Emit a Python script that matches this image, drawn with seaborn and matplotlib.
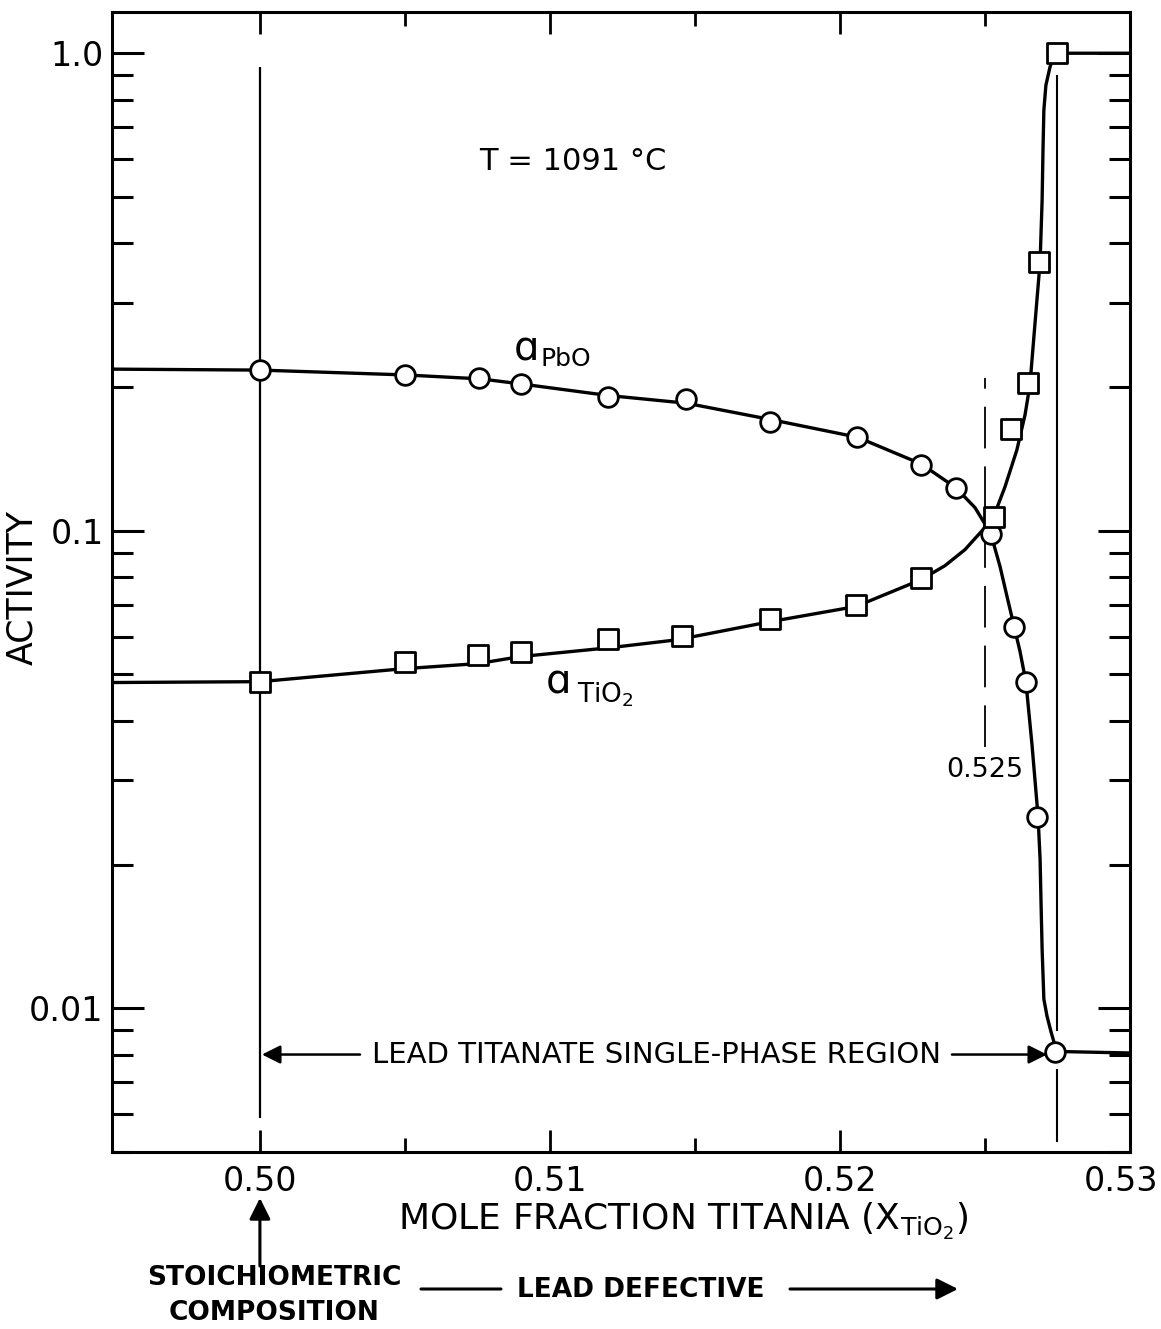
import numpy as np
import pandas as pd
import matplotlib
matplotlib.use("Agg")
import matplotlib.pyplot as plt
import matplotlib.transforms as mtransforms
import seaborn as sns
from matplotlib.ticker import FixedLocator, FixedFormatter, NullFormatter, LogLocator

# ---------------- data ----------------
# measured points: a_PbO (circles)
x_pbo = [0.5000, 0.5050, 0.50755, 0.5090, 0.5120, 0.5147, 0.5176, 0.5206,
         0.5228, 0.5240, 0.5252, 0.5260, 0.5264, 0.5268, 0.5274]
a_pbo = [0.217, 0.212, 0.209, 0.203, 0.191, 0.189, 0.169, 0.157,
         0.137, 0.123, 0.0986, 0.0630, 0.0483, 0.0252, 0.0081]

# measured points: a_TiO2 (squares)
x_tio2 = [0.5000, 0.5050, 0.50752, 0.5090, 0.5120, 0.51455, 0.51759, 0.52055,
          0.5228, 0.5253, 0.5259, 0.52648, 0.52686, 0.5275]
a_tio2 = [0.0483, 0.0532, 0.0548, 0.0558, 0.0594, 0.0603, 0.0654, 0.0700,
          0.0797, 0.107, 0.163, 0.204, 0.366, 1.0]

# hand-drawn smooth curves
pbo_curve_x = [0.4949, 0.5000, 0.5050, 0.5076, 0.5090, 0.5120, 0.5147, 0.5176,
               0.5206, 0.5228, 0.5240, 0.52466, 0.5252, 0.52552, 0.52576, 0.5260,
               0.52621, 0.52641, 0.52662, 0.52683, 0.52690, 0.52693, 0.52697,
               0.52703, 0.52714, 0.52728, 0.52738, 0.52745, 0.5300]
pbo_curve_y = [0.218, 0.217, 0.212, 0.208, 0.203, 0.192, 0.185, 0.171,
               0.157, 0.138, 0.123, 0.1117, 0.0986, 0.0841, 0.0728, 0.0632,
               0.0558, 0.0483, 0.0357, 0.0252, 0.0205, 0.0169, 0.01328,
               0.01045, 0.00962, 0.00891, 0.00849, 0.00812, 0.00806]

tio2_curve_x = [0.4949, 0.5000, 0.50493, 0.50752, 0.50897, 0.51207, 0.51438, 0.51759,
                0.52055, 0.5228, 0.52362, 0.52431, 0.52493, 0.52531, 0.52569,
                0.52610, 0.52638, 0.52655, 0.52672, 0.52690, 0.52697, 0.52700,
                0.52703, 0.52710, 0.52724, 0.52738, 0.52752, 0.5300]
tio2_curve_y = [0.0481, 0.0483, 0.0514, 0.0527, 0.0545, 0.0569, 0.0591, 0.0645,
                0.0694, 0.0790, 0.0845, 0.0913, 0.1005, 0.1075, 0.1236,
                0.1477, 0.1748, 0.2020, 0.2698, 0.3655, 0.4926, 0.627,
                0.760, 0.857, 0.935, 0.989, 1.0, 1.0]

# reference lines / annotations
stoich_x = 0.50
boundary_x = 0.5275
crossing_x = 0.525

x_ticks = [0.50, 0.51, 0.52, 0.53]
x_ticklabels = ["0.50", "0.51", "0.52", "0.53"]
x_minor = [0.505, 0.515, 0.525]
y_ticks = [0.01, 0.1, 1.0]
y_ticklabels = ["0.01", "0.1", "1.0"]

# ---------------- figure ----------------
sns.set_style("ticks")
plt.rcParams["font.family"] = ["DejaVu Sans"]
plt.rcParams["mathtext.fontset"] = "dejavusans"
plt.rcParams["lines.scale_dashes"] = False
for key in ["text.color", "axes.labelcolor", "xtick.color", "ytick.color",
            "axes.edgecolor"]:
    plt.rcParams[key] = "black"

fig = plt.figure(figsize=(11.61, 13.29), dpi=100)
ax = fig.add_axes([0.09647, 0.13318, 0.87683, 0.85779])

df_pc = pd.DataFrame({"x": pbo_curve_x, "y": pbo_curve_y})
df_tc = pd.DataFrame({"x": tio2_curve_x, "y": tio2_curve_y})
sns.lineplot(data=df_pc, x="x", y="y", sort=False, estimator=None, color="black",
             lw=2.4, ax=ax, zorder=3)
sns.lineplot(data=df_tc, x="x", y="y", sort=False, estimator=None, color="black",
             lw=2.4, ax=ax, zorder=3)

df_p = pd.DataFrame({"x": x_pbo, "y": a_pbo})
df_t = pd.DataFrame({"x": x_tio2, "y": a_tio2})
sns.scatterplot(data=df_p, x="x", y="y", marker="o", s=200, facecolor="white",
                edgecolor="black", linewidth=2.0, ax=ax, zorder=5)
sns.scatterplot(data=df_t, x="x", y="y", marker="s", s=190, facecolor="white",
                edgecolor="black", linewidth=2.0, ax=ax, zorder=5)

ax.set_yscale("log")
ax.set_xlim(0.4949, 0.5300)
ax.set_ylim(0.005, 1.22)

# vertical reference lines
ax.vlines(stoich_x, 0.0059, 0.935, color="black", lw=1.6, zorder=2)
ax.vlines(boundary_x, 0.00895, 0.90, color="black", lw=1.5, zorder=2)
ax.vlines(boundary_x, 0.00525, 0.00745, color="black", lw=1.5, zorder=2)
ax.vlines(crossing_x, 0.0353, 0.209, color="black", lw=1.3, zorder=2,
          linestyles=(0, (30, 13)))
ax.text(crossing_x, 0.0316, "0.525", ha="center", va="center", fontsize=19.5)

# text labels
ax.text(0.51079, 0.592, "T = 1091 °C", ha="center", va="center", fontsize=22)
ax.text(0.5092, 0.240, "ɑ", ha="center", va="center", fontsize=29)
ax.text(0.50968, 0.229, "PbO", ha="left", va="center", fontsize=18)
ax.text(0.51028, 0.0482, "ɑ", ha="center", va="center", fontsize=29)
ax.text(0.51095, 0.0453, r"TiO$_2$", ha="left", va="center", fontsize=19)

# single-phase region arrows
region_y = 0.0080
ax.annotate("", xy=(0.50007, region_y), xytext=(0.50345, region_y),
            arrowprops=dict(arrowstyle="-|>", color="black", lw=1.8,
                            mutation_scale=28, shrinkA=0, shrinkB=0))
ax.annotate("", xy=(0.52714, region_y), xytext=(0.52386, region_y),
            arrowprops=dict(arrowstyle="-|>", color="black", lw=1.8,
                            mutation_scale=28, shrinkA=0, shrinkB=0))
ax.text(0.51366, 0.0080, "LEAD TITANATE SINGLE-PHASE REGION", ha="center",
        va="center", fontsize=21)

# ticks
ax.xaxis.set_major_locator(FixedLocator(x_ticks))
ax.xaxis.set_major_formatter(FixedFormatter(x_ticklabels))
ax.xaxis.set_minor_locator(FixedLocator(x_minor))
ax.xaxis.set_minor_formatter(NullFormatter())
ax.yaxis.set_major_locator(FixedLocator(y_ticks))
ax.yaxis.set_major_formatter(FixedFormatter(y_ticklabels))
ax.yaxis.set_minor_locator(LogLocator(base=10, subs=np.arange(2, 10)))
ax.yaxis.set_minor_formatter(NullFormatter())

ax.tick_params(axis="x", which="major", direction="in", length=16, width=2.0,
               top=True, bottom=True, labelsize=24, pad=9, color="black")
ax.tick_params(axis="x", which="minor", direction="in", length=10, width=2.0,
               top=True, bottom=True)
ax.tick_params(axis="y", which="major", direction="in", length=23, width=2.2,
               left=True, right=True, labelsize=24, pad=6)
ax.tick_params(axis="y", which="minor", direction="in", length=15, width=2.2,
               left=True, right=True)
for sp in ax.spines.values():
    sp.set_visible(True)
    sp.set_linewidth(2.2)
    sp.set_color("black")

# nudge the last x tick label so it stays inside the figure, as in the original
last_lbl = ax.get_xticklabels()[-1]
last_lbl.set_transform(last_lbl.get_transform() +
                       mtransforms.ScaledTranslation(-9 / 100, 0, fig.dpi_scale_trans))

ax.set_xlabel(r"MOLE FRACTION TITANIA (X$_{\mathrm{TiO}_2}$)", fontsize=26)
ax.xaxis.set_label_coords(0.561, -0.043)
ax.set_ylabel("ACTIVITY", fontsize=25)
ax.yaxis.set_label_coords(-0.071, 0.495)

# annotations below the axis
ax.annotate("", xy=(stoich_x, 1329 - 1198), xytext=(stoich_x, 1329 - 1266),
            xycoords=("data", "figure pixels"), textcoords=("data", "figure pixels"),
            arrowprops=dict(arrowstyle="-|>", color="black", lw=2.2,
                            mutation_scale=32, shrinkA=0, shrinkB=0),
            annotation_clip=False)
fig.text(274 / 1161, 1 - 1278 / 1329, "STOICHIOMETRIC", ha="center", va="center",
         fontsize=19, fontweight="bold")
fig.text(274 / 1161, 1 - 1313 / 1329, "COMPOSITION", ha="center", va="center",
         fontsize=19, fontweight="bold")
fig.text(641 / 1161, 1 - 1290 / 1329, "LEAD DEFECTIVE", ha="center", va="center",
         fontsize=19, fontweight="bold")
ax.annotate("", xy=(501, 1329 - 1289), xytext=(421, 1329 - 1289),
            xycoords="figure pixels", textcoords="figure pixels",
            arrowprops=dict(arrowstyle="-", color="black", lw=2.2,
                            shrinkA=0, shrinkB=0), annotation_clip=False)
ax.annotate("", xy=(958, 1329 - 1289), xytext=(790, 1329 - 1289),
            xycoords="figure pixels", textcoords="figure pixels",
            arrowprops=dict(arrowstyle="-|>", color="black", lw=2.2,
                            mutation_scale=32, shrinkA=0, shrinkB=0),
            annotation_clip=False)

fig.savefig("out.png", dpi=100)
